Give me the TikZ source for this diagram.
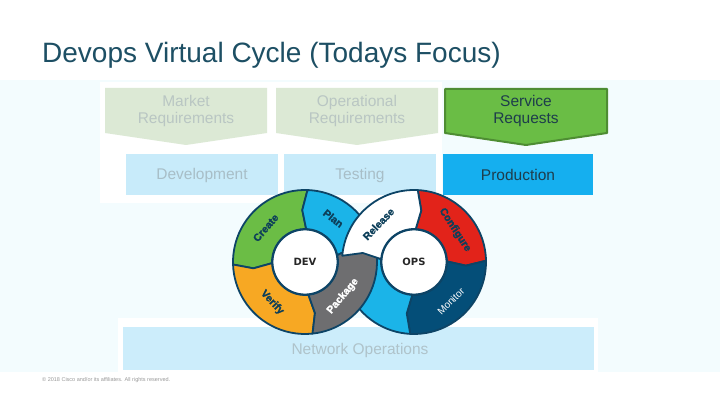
\documentclass[tikz,border=0pt]{standalone}
\usepackage{fontspec}
\setmainfont{Liberation Sans}
\newfontfamily\djv{DejaVu Sans}
\newfontfamily\heavy{Liberation Sans Bold}[FakeBold=1.6]
\usetikzlibrary{calc}
\definecolor{titlec}{HTML}{1D4F64}
\definecolor{bandc}{HTML}{F3FCFE}
\definecolor{fadegreen}{HTML}{DCE9D5}
\definecolor{fadegreentext}{HTML}{B9C6C3}
\definecolor{srvgreen}{HTML}{6ABD45}
\definecolor{srvborder}{HTML}{4E8D33}
\definecolor{darktext}{HTML}{1E3D4C}
\definecolor{fadeblue}{HTML}{C8EBFA}
\definecolor{fadebluetext}{HTML}{A8BEC7}
\definecolor{prodblue}{HTML}{15AFEF}
\definecolor{netblue}{HTML}{CCEDFB}
\definecolor{nettext}{HTML}{AFC3CA}
\definecolor{ringline}{HTML}{0D4466}
\definecolor{cgreen}{HTML}{6BBD45}
\definecolor{ccyan}{HTML}{1BB4E8}
\definecolor{corange}{HTML}{F7A823}
\definecolor{cgray}{HTML}{6E6E70}
\definecolor{cred}{HTML}{E2231A}
\definecolor{cnavy}{HTML}{044E78}
\definecolor{seglabel}{HTML}{0D3F5A}
\tikzset{
  seg/.style={draw=ringline, line width=1.8pt, line join=round},
  chevfade/.style={fill=fadegreen, draw=none},
  boxfade/.style={fill=fadeblue, draw=none},
  boxtxt/.style={font=\fontsize{15.5}{17}\selectfont, align=center, inner sep=0pt},
  seglbl/.style={font=\heavy\fontsize{10.5}{12}\selectfont, text=seglabel, inner sep=0pt},
  hub/.style={circle, fill=white, draw=ringline, line width=1.8pt, minimum size=65pt, inner sep=0pt, font=\djv\bfseries\fontsize{10}{12}\selectfont, text=black!85}
}
\newcommand\ringseg[5]{\filldraw[seg,fill=#5] ($(#1)+(#2:72)$) arc[start angle=#2,end angle=#3,radius=72] -- ($(#1)+({#3+#4}:52)$) -- ($(#1)+(#3:33)$) arc[start angle=#3,end angle=#2,radius=33] -- ($(#1)+({#2+#4}:52)$) -- cycle;}
\begin{document}
\begin{tikzpicture}[x=1pt,y=1pt]
\useasboundingbox (0,0) rectangle (720,405);
\fill[white] (0,0) rectangle (720,405);
\fill[bandc] (0,33) rectangle (720,325);
\fill[white] (100,202) rectangle (442,323);
\fill[white] (118,33) rectangle (598,87);

% title
\node[anchor=base west, font=\fontsize{28}{32}\selectfont, text=titlec, inner sep=0pt] (title) at (42,342) {Devops Virtual Cycle (Todays Focus)};

% top row chevrons
\fill[chevfade] (105,317) -- (267,317) -- (267,272) -- (186,260) -- (105,272) -- cycle;
\fill[chevfade] (276,317) -- (438,317) -- (438,272) -- (357,260) -- (276,272) -- cycle;
\filldraw[fill=srvgreen, draw=srvborder, line width=2pt, line join=round] (445,316) -- (607,316) -- (607,272) -- (526,260) -- (445,272) -- cycle;
\node[boxtxt, text=fadegreentext] (market) at (186,294) {Market\\Requirements};
\node[boxtxt, text=fadegreentext] (oper) at (357,294) {Operational\\Requirements};
\node[boxtxt, text=darktext] (service) at (526,294) {Service\\Requests};

% second row
\fill[boxfade] (126,210) rectangle (278,251);
\fill[boxfade] (284,210) rectangle (436,251);
\fill[prodblue] (443,210) rectangle (593,251);
\node[boxtxt, text=fadebluetext] (dev box) at (202,230) {Development};
\node[boxtxt, text=fadebluetext] (test box) at (360,230) {Testing};
\node[boxtxt, text=darktext] (prod box) at (518,230) {Production};

% network operations
\fill[netblue] (123,35) rectangle (594,78);
\node[boxtxt, text=nettext] (netops) at (360,55) {Network Operations};

% cycle
\coordinate (dev) at (305,143);
\coordinate (ops) at (414,143);
\ringseg{dev}{88}{182}{5}{cgreen}
\ringseg{dev}{12}{88}{5}{ccyan}
\ringseg{dev}{182}{276}{5}{corange}
\ringseg{ops}{87}{1}{-5}{cred}
\ringseg{ops}{361}{267}{-5}{cnavy}
\ringseg{ops}{267}{175}{-5}{ccyan}
\ringseg{dev}{276}{372}{5}{cgray}
\ringseg{ops}{175}{87}{-5}{white}
\node[hub] (devhub) at (dev) {DEV};
\node[hub] (opshub) at (ops) {OPS};

% segment labels
\node[seglbl, rotate=49] (create) at ($(dev)+(139:52)$) {Create};
\node[seglbl, rotate=-38] (plan) at ($(dev)+(57:52)$) {Plan};
\node[seglbl, rotate=-47] (verify) at ($(dev)+(231:52)$) {Verify};
\node[seglbl, rotate=50, text=white] (package) at ($(dev)+(-42:51)$) {Package};
\node[seglbl, rotate=46] (release) at ($(ops)+(133:52)$) {Release};
\node[seglbl, rotate=-57] (configure) at ($(ops)+(38:52)$) {Configure};
\node[font=\fontsize{10}{12}\selectfont, text=white, inner sep=0pt, rotate=45] (monitor) at ($(ops)+(-47:54)$) {Monitor};

% footer
\node[anchor=west, font=\fontsize{5.5}{6}\selectfont, text=black!40, inner sep=0pt] (footer) at (42,25) {© 2018 Cisco and/or its affiliates. All rights reserved.};
\end{tikzpicture}
\end{document}
